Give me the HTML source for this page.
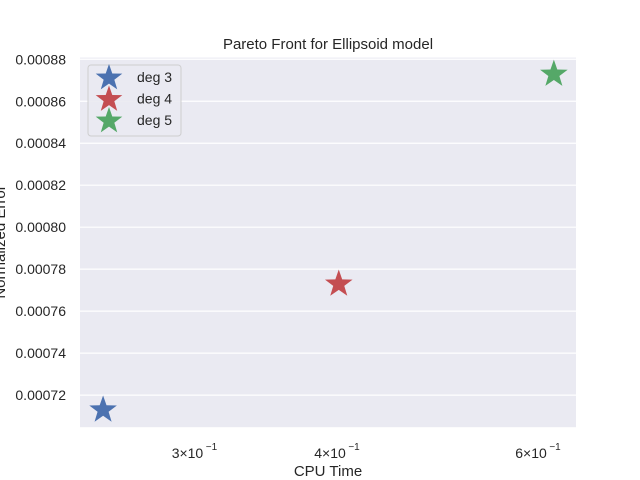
<!DOCTYPE html>
<html><head><meta charset="utf-8"><style>
body{margin:0;background:#fff;}
svg{display:block;font-family:"Liberation Sans",Arial,sans-serif;}
</style></head><body>
<svg id="chart" width="640" height="480" xmlns="http://www.w3.org/2000/svg">
<rect x="0" y="0" width="640" height="480" fill="#fff"/>
<rect x="80" y="57.6" width="496" height="369.6" fill="#eaeaf2"/>
<g id="grid"></g>
<g id="yticks"></g>
<g id="xticks"></g>
<g id="marks"></g>
<text x="328" y="49" text-anchor="middle" font-size="15" fill="#262626">Pareto Front for Ellipsoid model</text>
<text x="328" y="476" text-anchor="middle" font-size="15" fill="#262626">CPU Time</text>
<text x="0" y="0" text-anchor="middle" font-size="15" fill="#262626" transform="translate(5,242) rotate(-90)">Normalized Error</text>
<g>
<rect x="88" y="65" width="93" height="71" rx="3" fill="#eaeaf2" stroke="#cccccc" stroke-width="1" opacity="0.9"/>
<g id="legend-items"></g>
</g>
</svg>
<script>
const labels=["deg 3","deg 4","deg 5"];
const cpuTimes=[0.2505,0.4030,0.622];
const errors=[0.0007129,0.0007729,0.0008729];
const colors=["#4c72b0","#c44e52","#55a868"];
const yTicks=[0.00072,0.00074,0.00076,0.00078,0.00080,0.00082,0.00084,0.00086,0.00088];
const xTicks=[0.3,0.4,0.6];
const xTickMant=["3","4","6"];
const NS="http://www.w3.org/2000/svg";
const X0=80,X1=576,Y0=427.2,Y1=57.6;
const xmin=Math.log10(0.2391),xmax=Math.log10(0.6504);
const ymin=0.0007047,ymax=0.0008808;
function sx(v){return X0+(Math.log10(v)-xmin)/(xmax-xmin)*(X1-X0);}
function sy(v){return Y0-(v-ymin)/(ymax-ymin)*(Y0-Y1);}
function mk(t,a,p){const e=document.createElementNS(NS,t);for(const k in a)e.setAttribute(k,a[k]);p.appendChild(e);return e;}
function star(cx,cy,R){let pts=[];for(let i=0;i<10;i++){const r=i%2?R*0.4:R;const a=-Math.PI/2+i*Math.PI/5;pts.push((cx+r*Math.cos(a)).toFixed(2)+","+(cy+r*Math.sin(a)).toFixed(2));}return pts.join(" ");}
const grid=document.getElementById('grid'),yt=document.getElementById('yticks'),xt=document.getElementById('xticks'),marks=document.getElementById('marks'),leg=document.getElementById('legend-items');
yTicks.forEach(v=>{const y=sy(v);
const l=mk('line',{x1:X0,x2:X1,y1:y,y2:y,stroke:'#fff','stroke-width':1.2},grid);


const t=mk('text',{x:66,y:y+5,'text-anchor':'end','font-size':14,fill:'#262626'},yt);t.textContent=v.toFixed(5);


});
xTicks.forEach((v,i)=>{const x=sx(v);
const t=mk('text',{x:x-5,y:458,'text-anchor':'middle','font-size':14,fill:'#262626'},xt);t.textContent=xTickMant[i]+"\u00d710";


const s=mk('text',{x:x+19,y:450,'text-anchor':'middle','font-size':10,fill:'#262626'},xt);s.textContent="\u22121";


});
cpuTimes.forEach((v,i)=>{const p=mk('polygon',{points:star(sx(v),sy(errors[i]),14.5),fill:colors[i]},marks);


const ls=mk('polygon',{points:star(109,78+i*21.5,14),fill:colors[i]},leg);


const lt=mk('text',{x:137,y:82+i*21.5,'font-size':14,fill:'#262626'},leg);lt.textContent=labels[i];


});
</script>
</body></html>
